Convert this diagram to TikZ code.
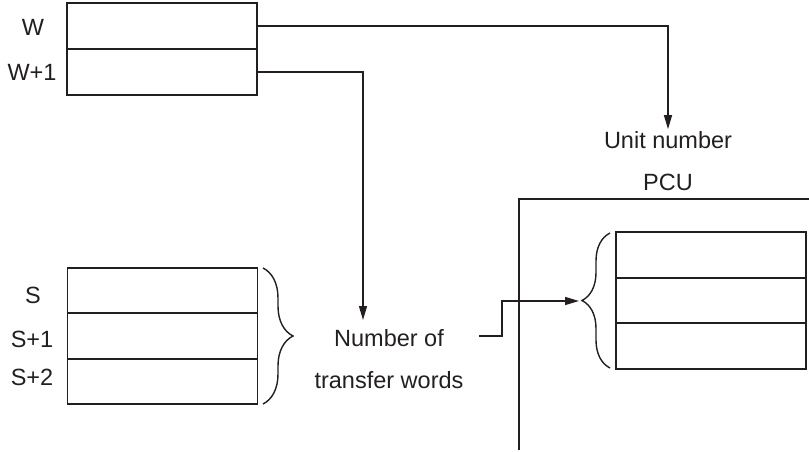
\documentclass[tikz,border=0pt]{standalone}
\usepackage{fontspec}
\setmainfont{Liberation Sans}
\usetikzlibrary{arrows.meta,decorations.pathreplacing}
\definecolor{ink}{HTML}{231F20}
\tikzset{
	cell/.style = {draw = ink, line width = 1.6pt, minimum width = 190pt, minimum height = 45.5pt, inner sep = 0pt},
	lbl/.style = {text = ink, font = \fontsize{23.5}{42}\selectfont, inner sep = 2pt},
	wire/.style = {draw = ink, line width = 1.3pt},
	arr/.style = {wire, -{Triangle[length = 14pt, width = 8pt]}},
	brc/.style = {draw = ink, line width = 1.4pt, decorate, decoration = {brace, amplitude = #1}}
}
\begin{document}
\begin{tikzpicture}[x = 1pt, y = -1pt]
	\useasboundingbox (0,0) rectangle (809,452);
	% word W, W+1
	\node [cell] (w0) at (162,26) {};
	\node [cell] (w1) at (162,72) {};
	\node [lbl] (lw0) at (33,27) {W};
	\node [lbl] (lw1) at (32,72) {W+1};
	% source words S .. S+2
	\node [cell] (s0) at (162.5,290.5) {};
	\node [cell] (s1) at (162.5,336) {};
	\node [cell] (s2) at (162.5,381.5) {};
	\node [lbl] (ls0) at (33,295) {S};
	\node [lbl] (ls1) at (32,339) {S+1};
	\node [lbl] (ls2) at (32,377) {S+2};
	\draw [brc = 30pt] (263,268) -- (263,404);
	% texts
	\node [lbl] (unit) at (668,140) {Unit number};
	\node [lbl] (pcu) at (668,182) {PCU};
	\node [lbl, align = center] (nwords) at (389,359) {Number of\\transfer words};
	%\node [lbl] at (388,338) {Number of};
	% PCU side
	\draw [ink, line width = 2.8pt] (809,199) -| (519,450);
	\node [cell] (p0) at (711,255) {};
	\node [cell] (p1) at (711,300.5) {};
	\node [cell] (p2) at (711,346) {};
	\draw [brc = 28pt] (610,368) -- (610,233);
	% connectors
	\coordinate (nin) at (363,320);
	\coordinate (nout) at (479,336);
	\coordinate (ptip) at (579,301);
	\draw [arr] (w0.east) -| (unit.north);
	\draw [arr] (w1.east) -| (nin);
	\draw [arr] (nout) -- ++(23,0) |- (ptip);
\end{tikzpicture}
\end{document}
